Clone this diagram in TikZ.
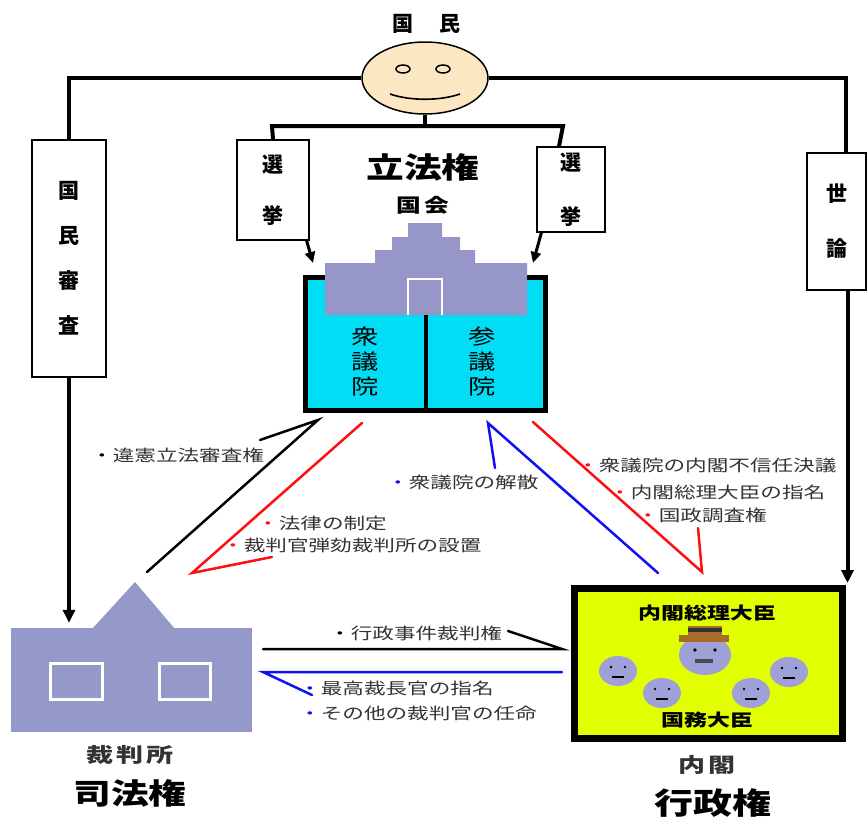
\documentclass[tikz,border=0pt]{standalone}
\usepackage{fontspec}
\newfontfamily\jp{Noto Sans CJK JP}
\newfontfamily\jpw{Noto Sans CJK JP}[FakeStretch=1.3]
\newfontfamily\jpl{Noto Sans CJK JP}[FakeStretch=1.35]
\usetikzlibrary{arrows.meta,shapes.geometric}

\definecolor{skin}{HTML}{FCE7C3}
\definecolor{dietcyan}{HTML}{00DDF5}
\definecolor{roofpurple}{HTML}{9696C8}
\definecolor{courtpurple}{HTML}{9499C9}
\definecolor{cabyellow}{HTML}{E2FF00}
\definecolor{minister}{HTML}{A0A0D8}
\definecolor{hatbrown}{HTML}{A66C2C}
\definecolor{labelgray}{HTML}{333333}
\definecolor{linkred}{HTML}{FF1010}
\definecolor{linkblue}{HTML}{1010F0}

\tikzset{
  mainline/.style={line width=4pt},
  mainarrow/.style={line width=4pt, -{Triangle[length=13pt,width=12pt]}},
  smallarrow/.style={line width=3pt, -{Triangle[length=11pt,width=10pt]}},
  labelbox/.style={draw, line width=1.2pt, fill=white, inner sep=0pt, align=center,
    font=\jp\bfseries\fontsize{21}{45}\selectfont},
  link/.style={line width=2.5pt, line cap=round, line join=miter},
  linklabel/.style={anchor=west, inner sep=0pt, text=labelgray,
    font=\jpl\fontsize{16}{18}\selectfont},
  bigtitle/.style={inner sep=0pt, font=\jpw\bfseries\fontsize{29}{32}\selectfont},
  subtitle/.style={inner sep=0pt, text=labelgray, font=\jpl\bfseries\fontsize{20}{22}\selectfont},
  smallface/.style={fill=minister, draw=none},
}

\begin{document}
\begin{tikzpicture}[x=1pt, y=-1pt]
\useasboundingbox[fill=white] (0,0) rectangle (868,817);

% ---------- the people ----------
\node (people-label) [inner sep=0pt, font=\jp\bfseries\fontsize{21}{24}\selectfont]
  at (426,24) {国\hspace{26pt}民};
\node (face) [ellipse, draw, line width=1.5pt, fill=skin,
  minimum width=126pt, minimum height=72pt] at (425,78) {};
\node (eyeL) [ellipse, draw, line width=1.5pt, fill=skin,
  minimum width=14pt, minimum height=8pt, inner sep=0pt] at (403,69) {};
\node (eyeR) [ellipse, draw, line width=1.5pt, fill=skin,
  minimum width=14pt, minimum height=8pt, inner sep=0pt] at (443,69) {};
\draw[line width=1.6pt] (390,94) .. controls (410,101) and (440,101) .. (460,94);

% ---------- side boxes ----------
\node (shinsa) [labelbox, minimum width=74pt, minimum height=237pt]
  at (69,258.5) {国\\民\\審\\査};
\node (seron) [labelbox, minimum width=59pt, minimum height=137pt,
  font=\jp\bfseries\fontsize{21}{55}\selectfont] at (836.5,221.5) {世\\論};
\node (senkyoL) [labelbox, minimum width=72pt, minimum height=100pt,
  font=\jp\bfseries\fontsize{21}{51}\selectfont] at (273,190) {選\\挙};
\node (senkyoR) [labelbox, minimum width=68pt, minimum height=85pt,
  font=\jp\bfseries\fontsize{21}{54}\selectfont] at (571,189.5) {選\\挙};

% ---------- legislature ----------
\node (legis-title) [bigtitle] at (423,167) {立法権};
\node (kokkai) [inner sep=0pt, font=\jpw\bfseries\fontsize{19}{22}\selectfont]
  at (423,205) {国\hspace{4pt}会};
\node (diet) [draw, line width=5pt, fill=dietcyan,
  minimum width=240pt, minimum height=133pt] at (425.5,344) {};
\fill[roofpurple] (325,315) -- (325,263) -- (375,263) -- (375,250) -- (392,250)
  -- (392,237) -- (408,237) -- (408,223) -- (442,223) -- (442,237) -- (460,237)
  -- (460,250) -- (475,250) -- (475,263) -- (527,263) -- (527,315) -- cycle;
\draw[white, line width=2.5pt] (408,315) -- (408,279) -- (442,279) -- (442,315);
\draw[line width=4pt] (diet.south |- 0,315) -- (diet.south);
\node (shugiin) [inner sep=0pt, align=center, font=\jpw\fontsize{21}{25}\selectfont]
  at (365,362) {衆\\議\\院};
\node (sangiin) [inner sep=0pt, align=center, font=\jpw\fontsize{21}{25}\selectfont]
  at (482,362) {参\\議\\院};

% ---------- judiciary ----------
\node (court) [fill=courtpurple, minimum width=241pt, minimum height=104pt,
  inner sep=0pt] at (131.5,680) {};
\fill[courtpurple] (92,629) -- (135,582) -- (175,629) -- cycle;
\draw[white, line width=3pt] (50,663) rectangle (102,699);
\draw[white, line width=3pt] (159,663) rectangle (210,699);
\node (court-name) [subtitle, font=\jpl\bfseries\fontsize{20}{22}\selectfont]
  at (130,755) {裁\hspace{3pt}判\hspace{3pt}所};
\node (judi-title) [bigtitle] at (130,793) {司法権};

% ---------- cabinet ----------
\node (cabinet) [draw, line width=7pt, fill=cabyellow,
  minimum width=268pt, minimum height=150pt] at (708.5,663.5) {};
\node (pm-label) [inner sep=0pt, font=\jpl\bfseries\fontsize{17}{20}\selectfont]
  at (707,613) {内閣総理大臣};
\node (min-label) [inner sep=0pt, font=\jpl\bfseries\fontsize{17}{20}\selectfont]
  at (707,720) {国務大臣};
% prime minister with hat
\fill[minister] (705,655) ellipse [x radius=26, y radius=20];
\fill[hatbrown] (679,635) rectangle (729,642);
\fill[hatbrown] (688,626) rectangle (722,635);
\fill[black!80] (688,628) rectangle (722,632);
\fill (695,650) circle [radius=1.8];
\fill (715,650) circle [radius=1.8];
\fill[black!70] (695,659) rectangle (713,663);
% ministers
\foreach \fx/\fy in {618/671, 662/693, 751/693, 789/672}{
  \fill[minister] (\fx,\fy) ellipse [x radius=19, y radius=15];
  \fill (\fx-7,\fy-4) circle [radius=1.3];
  \fill (\fx+7,\fy-4) circle [radius=1.3];
  \draw[line width=2pt] (\fx-6,\fy+6) -- (\fx+6,\fy+6);
}
\node (cab-name) [subtitle] at (707,765) {内\hspace{3pt}閣};
\node (exec-title) [bigtitle, font=\jpw\bfseries\fontsize{30}{32}\selectfont]
  at (713,803) {行政権};

% ---------- thick lines from the people ----------
\coordinate (brL) at (272,126);
\coordinate (brR) at (563,126);
\draw[mainline] (face.west) -| (shinsa.north);
\draw[mainline] (face.east) -| ([shift={(9,0)}]seron.north);
\draw[mainline] (face.south) -- (face.south |- brL);
\draw[mainline] (senkyoL.north) -- (brL) -- (brR) -- ([shift={(-12,0)}]senkyoR.north);
\draw[mainarrow, shorten >=5pt] (shinsa.south) -- (shinsa.south |- court.north);
\draw[mainarrow, shorten >=2pt] ([shift={(11,0)}]seron.south)
  -- ([shift={(11,0)}]seron.south |- cabinet.north);
\coordinate (dietL) at (313,263);
\coordinate (dietR) at (533,263);
\draw[smallarrow] ([shift={(-3,0)}]senkyoL.south east) -- (dietL);
\draw[smallarrow] ([shift={(5,0)}]senkyoR.south west) -- (dietR);

% ---------- checks and balances ----------
% judicial review of legislation
\coordinate (rev-a) at (147,572);
\coordinate (rev-b) at (318,420);
\coordinate (rev-c) at (260,440);
\draw[link, black] (rev-a) -- (rev-b) -- (rev-c);
\node (rev-label) [linklabel] at (91,455) {{\color{black}・}違憲立法審査権};

% legislation and impeachment court
\coordinate (law-a) at (362,423);
\coordinate (law-b) at (192,573);
\coordinate (law-c) at (272,557);
\draw[link, linkred] (law-a) -- (law-b) -- (law-c);
\node (law-label1) [linklabel] at (257,523) {{\color{linkred}・}法律の制定};
\node (law-label2) [linklabel] at (222,545) {{\color{linkred}・}裁判官弾劾裁判所の設置};

% dissolution of the lower house
\coordinate (dis-a) at (658,573);
\coordinate (dis-b) at (488,423);
\coordinate (dis-c) at (495,468);
\draw[link, linkblue] (dis-a) -- (dis-b) -- (dis-c);
\node (dis-label) [linklabel] at (387,482) {{\color{linkblue}・}衆議院の解散};

% no-confidence, nomination, investigation
\coordinate (nc-a) at (533,422);
\coordinate (nc-b) at (702,572);
\coordinate (nc-c) at (698,528);
\draw[link, linkred] (nc-a) -- (nc-b) -- (nc-c);
\node (nc-label1) [linklabel] at (577,465) {{\color{linkred}・}衆議院の内閣不信任決議};
\node (nc-label2) [linklabel] at (609,492) {{\color{linkred}・}内閣総理大臣の指名};
\node (nc-label3) [linklabel] at (637,515) {{\color{linkred}・}国政調査権};

% administrative cases
\coordinate (adm-a) at (263,649);
\coordinate (adm-b) at (562,649);
\coordinate (adm-c) at (508,631);
\draw[link, black] (adm-a) -- (adm-b) -- (adm-c);
\node (adm-label) [linklabel] at (329,633) {{\color{black}・}行政事件裁判権};

% appointment of judges
\coordinate (app-a) at (562,672);
\coordinate (app-b) at (263,672);
\coordinate (app-c) at (312,695);
\draw[link, linkblue] (app-a) -- (app-b) -- (app-c);
\node (app-label1) [linklabel] at (299,688) {{\color{linkblue}・}最高裁長官の指名};
\node (app-label2) [linklabel] at (299,713) {{\color{linkblue}・}その他の裁判官の任命};
\end{tikzpicture}
\end{document}
